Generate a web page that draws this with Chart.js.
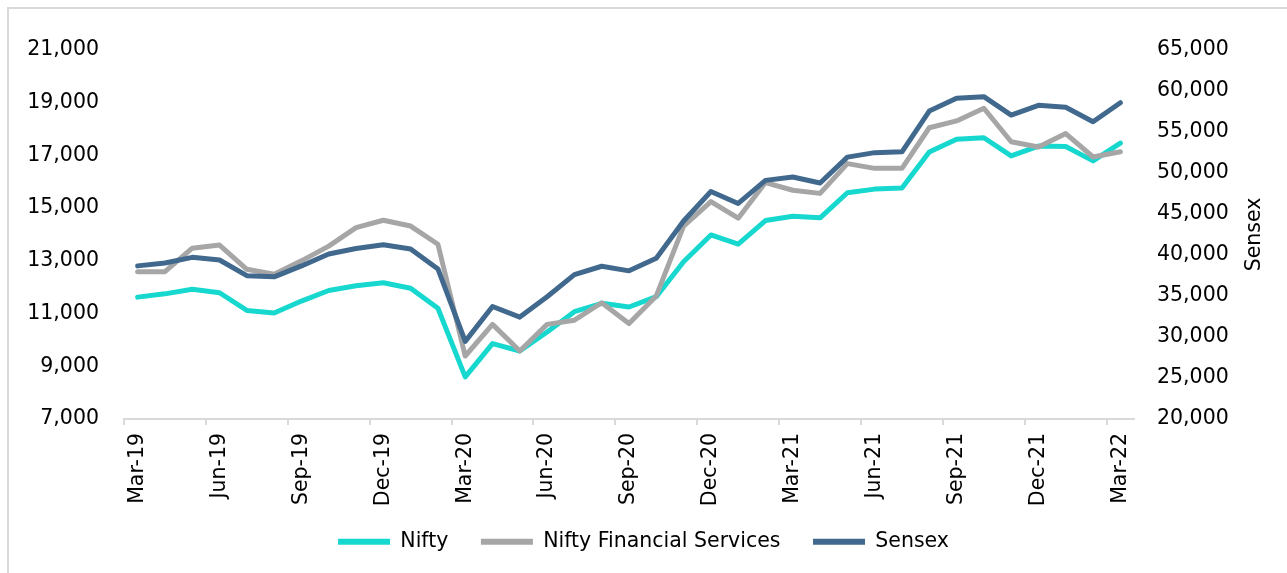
<!DOCTYPE html>
<html>
<head>
<meta charset="utf-8">
<script src="https://cdn.jsdelivr.net/npm/chart.js@4.4.1/dist/chart.umd.min.js"></script>
<style>
    html, body { margin: 0; padding: 0; background: #fff; }
    #wrap { position: relative; width: 1287px; height: 573px; }
    #frame {
        position: absolute; left: 7px; top: 7px; right: 0; bottom: 0;
        border-top: 2px solid #d9d9d9; border-left: 2px solid #d9d9d9;
        pointer-events: none;
    }
</style>
</head>
<body>
<div id="wrap">
    <canvas id="indexChart" width="1287" height="573"></canvas>
    <div id="frame"></div>
</div>
<script>
// month-end closes, Mar-19 .. Mar-22
const months = [
    'Mar-19', 'Apr-19', 'May-19', 'Jun-19', 'Jul-19', 'Aug-19', 'Sep-19', 'Oct-19', 'Nov-19', 'Dec-19',
    'Jan-20', 'Feb-20', 'Mar-20', 'Apr-20', 'May-20', 'Jun-20', 'Jul-20', 'Aug-20', 'Sep-20', 'Oct-20',
    'Nov-20', 'Dec-20', 'Jan-21', 'Feb-21', 'Mar-21', 'Apr-21', 'May-21', 'Jun-21', 'Jul-21', 'Aug-21',
    'Sep-21', 'Oct-21', 'Nov-21', 'Dec-21', 'Jan-22', 'Feb-22', 'Mar-22'
];

const nifty = [
    11624, 11748, 11923, 11789, 11118, 11023, 11474, 11877, 12056, 12168,
    11962, 11202, 8598, 9860, 9580, 10302, 11073, 11388, 11248, 11642,
    12969, 13982, 13635, 14529, 14691, 14631, 15583, 15722, 15763, 17132,
    17618, 17672, 16983, 17354, 17340, 16794, 17465
];

const niftyFin = [
    12590, 12590, 13480, 13600, 12680, 12490, 13000, 13560, 14260, 14540,
    14320, 13630, 9390, 10590, 9580, 10590, 10750, 11410, 10620, 11670,
    14320, 15250, 14620, 15970, 15680, 15560, 16690, 16510, 16510, 18050,
    18310, 18790, 17520, 17320, 17830, 16940, 17140
];

const sensex = [
    38673, 39032, 39714, 39395, 37481, 37333, 38667, 40129, 40794, 41254,
    40723, 38297, 29468, 33718, 32424, 34916, 37607, 38628, 38068, 39614,
    44150, 47751, 46286, 49100, 49509, 48782, 51937, 52483, 52587, 57552,
    59126, 59307, 57065, 58254, 58014, 56247, 58569
];

const FONT = { family: 'DejaVu Sans', size: 20.5 };
const axisGrey = '#d9d9d9';

// draws the rotated right-hand axis title (reads bottom to top)
const rightTitle = {
    id: 'rightTitle',
    afterDraw(chart) {
        const { ctx, chartArea } = chart;
        ctx.save();
        ctx.translate(1255, (chartArea.top + chartArea.bottom) / 2);
        ctx.rotate(-Math.PI / 2);
        ctx.font = FONT.size + 'px "' + FONT.family + '"';
        ctx.fillStyle = '#000';
        ctx.textAlign = 'center';
        ctx.textBaseline = 'middle';
        ctx.fillText('Sensex', 0, 0);
        ctx.restore();
    }
};

const lineStyle = (color) => ({
    borderColor: color,
    backgroundColor: color,
    borderWidth: 5,
    pointRadius: 0,
    pointHoverRadius: 0,
    tension: 0,
    fill: false,
    borderJoinStyle: 'round',
    borderCapStyle: 'round'
});

new Chart(document.getElementById('indexChart'), {
    type: 'line',
    data: {
        labels: months,
        datasets: [
            { label: 'Nifty', data: nifty, yAxisID: 'y', order: 2, ...lineStyle('#17d8cf') },
            { label: 'Nifty Financial Services', data: niftyFin, yAxisID: 'y', order: 1, ...lineStyle('#a6a6a6') },
            { label: 'Sensex', data: sensex, yAxisID: 'y2', order: 0, ...lineStyle('#41698e') }
        ]
    },
    options: {
        responsive: false,
        animation: false,
        events: [],
        layout: { padding: { top: 50, bottom: 11, left: 0, right: 0 } },
        scales: {
            x: {
                offset: true,
                grid: {
                    offset: true,
                    drawOnChartArea: false,
                    drawTicks: true,
                    tickLength: 6,
                    lineWidth: 2,
                    color: (c) => (c.index % 3 === 0 ? axisGrey : 'rgba(0,0,0,0)')
                },
                border: { display: true, color: axisGrey, width: 2 },
                ticks: {
                    autoSkip: false,
                    minRotation: 90,
                    maxRotation: 90,
                    padding: 8,
                    color: '#000',
                    font: FONT,
                    callback: function (value, index) {
                        return index % 3 === 0 ? this.getLabelForValue(value) : '';
                    }
                },
                // tall enough that the rotated labels are not clipped
                afterFit: (scale) => { scale.height = 99.5; }
            },
            y: {
                position: 'left',
                min: 7000,
                max: 21000,
                grid: { display: false, drawTicks: false },
                border: { display: false },
                ticks: {
                    stepSize: 2000,
                    padding: 25,
                    color: '#000',
                    font: FONT,
                    callback: (v) => v.toLocaleString('en-US')
                },
                afterFit: (scale) => { scale.width = 124; }
            },
            y2: {
                position: 'right',
                min: 20000,
                max: 65000,
                grid: { display: false, drawTicks: false },
                border: { display: false },
                ticks: {
                    stepSize: 5000,
                    padding: 23,
                    color: '#000',
                    font: FONT,
                    callback: (v) => v.toLocaleString('en-US')
                },
                afterFit: (scale) => { scale.width = 153; }
            }
        },
        plugins: {
            tooltip: { enabled: false },
            legend: {
                position: 'bottom',
                labels: {
                    color: '#000',
                    font: FONT,
                    boxWidth: 52,
                    boxHeight: 6,
                    padding: 13,
                    sort: (a, b) => a.datasetIndex - b.datasetIndex,
                    // extra spaces after the first two names widen the gap between items
                    generateLabels: (chart) => {
                        const last = chart.data.datasets.length - 1;
                        return Chart.defaults.plugins.legend.labels.generateLabels(chart)
                            .map((item) => ({
                                ...item,
                                lineWidth: 0,
                                text: item.datasetIndex < last ? item.text + '\u00a0\u00a0\u00a0' : item.text
                            }));
                    }
                }
            }
        }
    },
    plugins: [rightTitle]
});
</script>
</body>
</html>
